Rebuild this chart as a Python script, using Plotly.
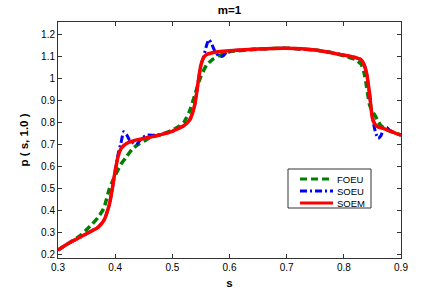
import plotly.graph_objects as go

# SOEM (red, solid)
s_soem = [0.30, 0.32, 0.34, 0.35, 0.36, 0.37, 0.38, 0.39, 0.395, 0.40, 0.405, 0.41, 0.415, 0.42,
          0.43, 0.44, 0.46, 0.48, 0.50, 0.51, 0.52, 0.53, 0.535, 0.54, 0.545, 0.55, 0.555, 0.56,
          0.57, 0.58, 0.60, 0.65, 0.70, 0.75, 0.78, 0.80, 0.82, 0.83, 0.835, 0.84, 0.845, 0.85,
          0.855, 0.86, 0.87, 0.88, 0.89, 0.90]
p_soem = [0.222, 0.255, 0.282, 0.296, 0.310, 0.325, 0.355, 0.43, 0.50, 0.58, 0.645, 0.680, 0.695, 0.705,
          0.715, 0.722, 0.733, 0.745, 0.760, 0.772, 0.785, 0.81, 0.84, 0.89, 0.98, 1.06, 1.095, 1.108,
          1.116, 1.120, 1.125, 1.133, 1.136, 1.128, 1.115, 1.105, 1.094, 1.085, 1.065, 1.02, 0.93, 0.82,
          0.79, 0.78, 0.772, 0.762, 0.752, 0.743]

# FOEU (green, dashed)
s_foeu = [0.30, 0.32, 0.34, 0.36, 0.37, 0.38, 0.39, 0.40, 0.41, 0.42, 0.43, 0.44, 0.45, 0.46,
          0.48, 0.50, 0.51, 0.52, 0.53, 0.54, 0.55, 0.56, 0.57, 0.58, 0.59, 0.60, 0.65, 0.70,
          0.75, 0.78, 0.80, 0.82, 0.83, 0.835, 0.84, 0.845, 0.85, 0.855, 0.86, 0.865, 0.87,
          0.88, 0.89, 0.90]
p_foeu = [0.222, 0.255, 0.29, 0.34, 0.37, 0.41, 0.50, 0.56, 0.61, 0.645, 0.68, 0.70, 0.715, 0.73,
          0.745, 0.765, 0.78, 0.80, 0.85, 0.93, 1.01, 1.06, 1.085, 1.10, 1.112, 1.12, 1.132, 1.136,
          1.128, 1.115, 1.102, 1.085, 1.065, 1.03, 0.96, 0.88, 0.85, 0.83, 0.805, 0.785, 0.775,
          0.762, 0.752, 0.743]

# SOEU (blue, dash-dot)
s_soeu = [0.30, 0.32, 0.34, 0.35, 0.36, 0.37, 0.38, 0.39, 0.395, 0.40, 0.405, 0.41, 0.415, 0.42,
          0.425, 0.43, 0.437, 0.445, 0.455, 0.47, 0.48, 0.50, 0.51, 0.52, 0.53, 0.535, 0.54, 0.545,
          0.55, 0.555, 0.56, 0.564, 0.568, 0.575, 0.582, 0.588, 0.595, 0.605, 0.65, 0.70, 0.75,
          0.78, 0.80, 0.82, 0.83, 0.835, 0.84, 0.845, 0.85, 0.855, 0.86, 0.865, 0.87, 0.875,
          0.88, 0.89, 0.90]
p_soeu = [0.222, 0.255, 0.282, 0.296, 0.310, 0.325, 0.355, 0.43, 0.50, 0.58, 0.655, 0.705, 0.758, 0.745,
          0.72, 0.71, 0.70, 0.725, 0.742, 0.742, 0.746, 0.760, 0.772, 0.785, 0.81, 0.84, 0.89, 0.98,
          1.06, 1.10, 1.15, 1.175, 1.16, 1.12, 1.10, 1.10, 1.118, 1.125, 1.133, 1.136, 1.128,
          1.115, 1.105, 1.094, 1.085, 1.065, 1.02, 0.93, 0.82, 0.76, 0.728, 0.74, 0.775, 0.778,
          0.765, 0.752, 0.743]

series_names = ["FOEU", "SOEU", "SOEM"]
x_ticks = [0.3, 0.4, 0.5, 0.6, 0.7, 0.8, 0.9]
y_ticks = [0.2, 0.3, 0.4, 0.5, 0.6, 0.7, 0.8, 0.9, 1.0, 1.1, 1.2]
y_tick_labels = ["0.2", "0.3", "0.4", "0.5", "0.6", "0.7", "0.8", "0.9", "1", "1.1", "1.2"]

W, H = 443, 291
ML, MR, MT, MB = 58, 42, 22, 33
PW, PH = W - ML - MR, H - MT - MB

def px_x(px):
    return (px - ML) / PW

def px_y(py):
    return (H - MB - py) / PH

styles = [
    dict(color="#008000", width=3.5, dash="7px,4px"),
    dict(color="#0000ff", width=3, dash="7px,3px,2px,3px"),
    dict(color="#ff0000", width=3.5, dash="solid"),
]

fig = go.Figure()
for name, xs, ys, st in zip(series_names, [s_foeu, s_soeu, s_soem], [p_foeu, p_soeu, p_soem], styles):
    fig.add_trace(go.Scatter(x=xs, y=ys, mode="lines", name=name, showlegend=False,
                             line=dict(shape="spline", smoothing=0.6, **st)))

font_family = "Liberation Sans, Arial, sans-serif"

# manual legend box (MATLAB-like compact legend)
shapes = [dict(type="rect", xref="paper", yref="paper",
               x0=px_x(288), x1=px_x(371), y0=px_y(208), y1=px_y(169),
               line=dict(color="#333333", width=1), fillcolor="white", layer="above")]
annotations = []
for i, (name, st) in enumerate(zip(series_names, styles)):
    yy = 179 + 12 * i
    shapes.append(dict(type="line", xref="paper", yref="paper",
                       x0=px_x(300), x1=px_x(333), y0=px_y(yy), y1=px_y(yy),
                       line=dict(color=st["color"], width=3, dash=st["dash"]), layer="above"))
    annotations.append(dict(text=name, xref="paper", yref="paper", x=px_x(335), y=px_y(yy),
                            xanchor="left", yanchor="middle", showarrow=False,
                            font=dict(size=9.5, family=font_family, color="#000000")))

fig.update_layout(
    width=W, height=H,
    margin=dict(l=ML, r=MR, t=MT, b=MB),
    paper_bgcolor="white", plot_bgcolor="white",
    font=dict(family=font_family, size=10, color="#000000"),
    title=dict(text="<b>m=1</b>", x=0.518, xanchor="center", y=0.965, yanchor="middle",
               font=dict(size=11.5, family=font_family)),
    showlegend=False,
    shapes=shapes,
    annotations=annotations,
)
fig.update_xaxes(range=[0.3, 0.9], tickvals=x_ticks, ticks="inside", ticklen=4, tickcolor="#333333",
                 showline=True, linecolor="#333333", linewidth=1, mirror="allticks",
                 showgrid=False, zeroline=False, automargin=False,
                 title=dict(text="<b>s</b>", font=dict(size=11.5), standoff=6))
fig.update_yaxes(range=[0.186, 1.255], tickvals=y_ticks, ticktext=y_tick_labels, ticks="inside", ticklen=4,
                 tickcolor="#333333", showline=True, linecolor="#333333", linewidth=1, mirror="allticks",
                 showgrid=False, zeroline=False, automargin=False,
                 title=dict(text="<b>p ( s, 1.0 )</b>", font=dict(size=11.5), standoff=10))

fig.write_html("out.html", config={"displayModeBar": False},
               post_script="document.body.style.margin='0';document.body.style.padding='0';")
